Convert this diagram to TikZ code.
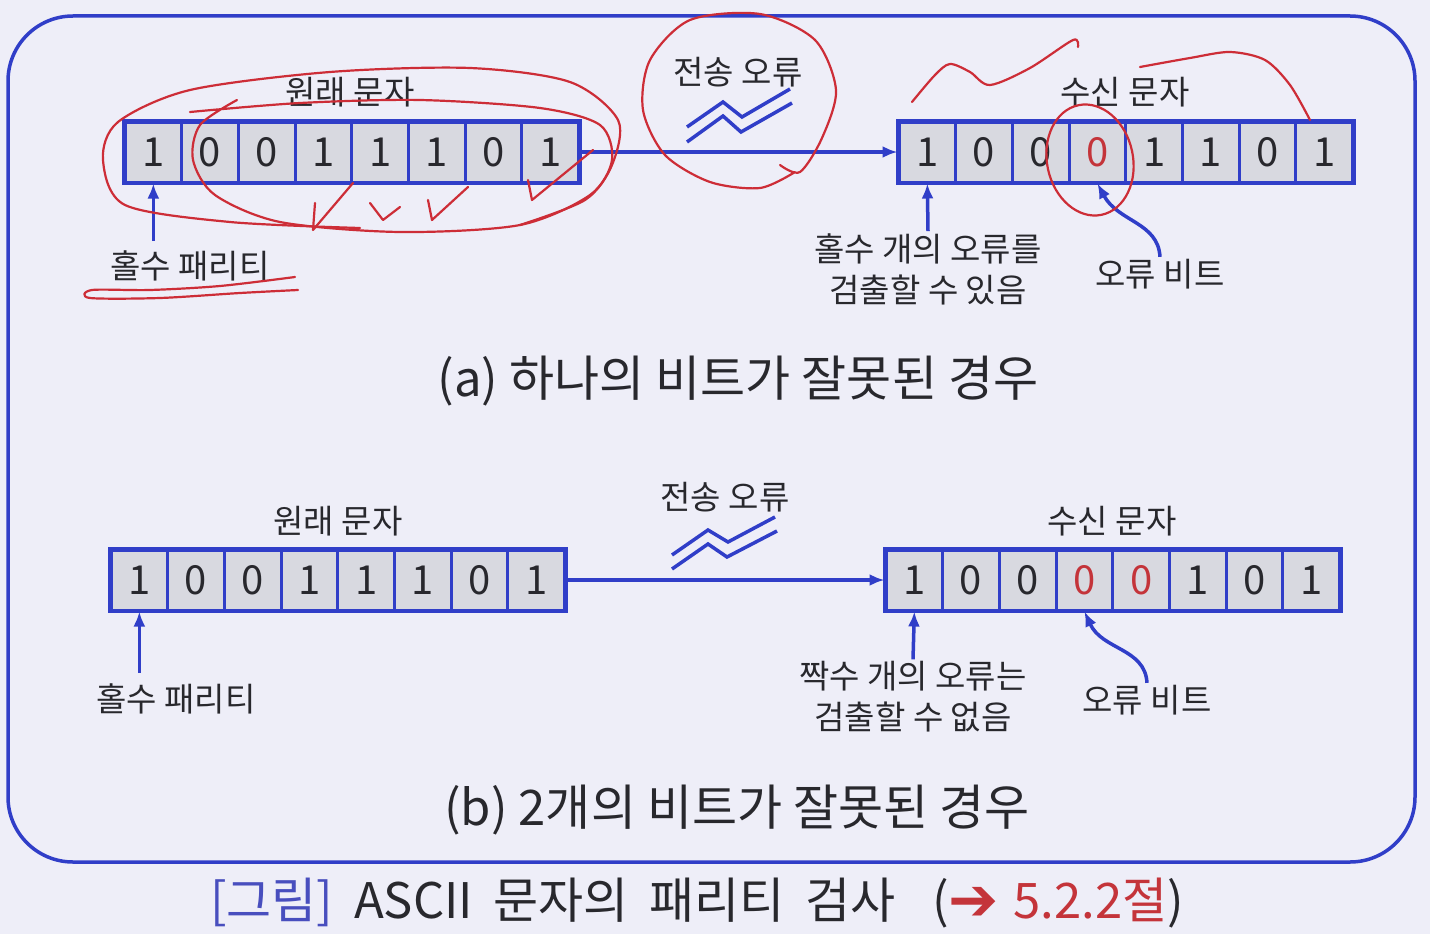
\documentclass[tikz,border=0pt]{standalone}
\usepackage{fontspec}
\setmainfont{Noto Sans CJK KR}
\newfontfamily\symfont{DejaVu Sans}
\usetikzlibrary{arrows.meta}
\definecolor{bgc}{RGB}{238,238,248}
\definecolor{bblue}{RGB}{48,62,200}
\definecolor{cellgray}{RGB}{216,217,224}
\definecolor{txt}{RGB}{40,40,45}
\definecolor{dred}{RGB}{196,52,58}
\definecolor{annred}{RGB}{205,45,55}
\definecolor{capblue}{RGB}{72,78,190}
\tikzset{
  cell/.style={draw=bblue,line width=3pt,fill=cellgray,minimum width=56.7pt,minimum height=60pt,inner sep=0pt,font=\fontsize{40}{40}\selectfont},
  lab/.style={text=txt,inner sep=2pt,align=center,font=\fontsize{33}{41}\selectfont},
  captext/.style={text=txt,inner sep=0pt,font=\fontsize{49}{52}\selectfont},
  arr/.style={draw=bblue,line width=3.5pt,-{Latex[length=15pt,width=12pt]}},
  zig/.style={draw=bblue,line width=3.5pt},
  regbox/.style={draw=bblue,line width=3.5pt},
  ann/.style={draw=annred,line width=2.2pt,line cap=round,line join=round}
}
\begin{document}
\begin{tikzpicture}[x=1pt,y=-1pt]
\fill[bgc] (0,0) rectangle (1430,934);
\useasboundingbox (0,0) rectangle (1430,934);
\draw[bblue,line width=3.5pt,rounded corners=65pt] (8,16) rectangle (1415,862);

% ---------- (a) ----------
\foreach \b/\c [count=\i] in {1/txt,0/txt,0/txt,1/txt,1/txt,1/txt,0/txt,1/txt}
  \node[cell,text=\c] (oa\i) at ({125+28.35+(\i-1)*56.7},152) {\b};
\draw[regbox] (oa1.north west) rectangle (oa8.south east);
\foreach \b/\c [count=\i] in {1/txt,0/txt,0/txt,0/dred,1/txt,1/txt,0/txt,1/txt}
  \node[cell,text=\c] (ra\i) at ({899+28.35+(\i-1)*56.7},152) {\b};
\draw[regbox] (ra1.north west) rectangle (ra8.south east);

\node[lab] (toa) at (350,92) {원래 문자};
\node[lab] (tra) at (1125,92) {수신 문자};
\node[lab] (tea) at (738,72) {전송 오류};
\draw[arr] (oa8.east) -- (ra1.west);
\draw[zig] (687,127) -- (723,102) -- (742,117) -- (790,89);
\draw[zig] (687,142) -- (723,116) -- (741,132) -- (792,103);

\node[lab] (pa) at (190,266) {홀수 패리티};
\draw[arr] (oa1.south |- 0,241) -- (oa1.south);
\node[lab] (da) at (928,269) {홀수 개의 오류를\\검출할 수 있음};
\draw[arr] (da.north) -- (ra1.south);
\node[lab] (ea) at (1160,274) {오류 비트};
\draw[arr] (ea.north) .. controls (1158,222) and (1118,222) .. (ra4.south);

\node[captext] (capa) at (738,381) {(a) 하나의 비트가 잘못된 경우};

% ---------- (b) ----------
\foreach \b/\c [count=\i] in {1/txt,0/txt,0/txt,1/txt,1/txt,1/txt,0/txt,1/txt}
  \node[cell,text=\c] (ob\i) at ({111+28.35+(\i-1)*56.7},580) {\b};
\draw[regbox] (ob1.north west) rectangle (ob8.south east);
\foreach \b/\c [count=\i] in {1/txt,0/txt,0/txt,0/dred,0/dred,1/txt,0/txt,1/txt}
  \node[cell,text=\c] (rb\i) at ({886+28.35+(\i-1)*56.7},580) {\b};
\draw[regbox] (rb1.north west) rectangle (rb8.south east);

\node[lab] (tob) at (338,521) {원래 문자};
\node[lab] (trb) at (1112,521) {수신 문자};
\node[lab] (teb) at (725,497) {전송 오류};
\draw[arr] (ob8.east) -- (rb1.west);
\draw[zig] (672,555) -- (708,530) -- (728,542) -- (775,517);
\draw[zig] (672,569) -- (708,544) -- (727,557) -- (777,531);

\node[lab] (pb) at (176,699) {홀수 패리티};
\draw[arr] (ob1.south |- 0,673) -- (ob1.south);
\node[lab] (db) at (913,697) {짝수 개의 오류는\\검출할 수 없음};
\draw[arr] (db.north) -- (rb1.south);
\node[lab] (eb) at (1147,700) {오류 비트};
\draw[arr] (eb.north) .. controls (1145,648) and (1102,650) .. (rb4.south);

\node[captext] (capb) at (737,810) {(b) 2개의 비트가 잘못된 경우};

% ---------- figure caption ----------
\node[text=txt,inner sep=0pt,anchor=west,font=\fontsize{49}{52}\selectfont] (fig) at (210,903)
  {\spaceskip=0.42em\relax{\color{capblue}[그림]} ASCII 문자의 패리티 검사\hspace{0.75em}({\color{dred}\symfont\fontsize{60}{60}\selectfont\raisebox{-0.04em}{➔}}\hspace{0.3em}{\color{dred}5.2.2절})};

% ---------- red hand annotations ----------
\draw[ann] plot[smooth] coordinates {(360,228) (230,222) (125,205) (103,160) (118,122) (190,90) (330,72) (470,68) (570,82) (618,120) (612,165) (585,200) (520,225)};
\draw[ann] plot[smooth] coordinates {(237,100) (200,125) (193,160) (215,195) (280,222) (400,232) (520,225) (590,195) (612,160) (600,125) (540,108) (420,100) (300,103) (190,112)};
\draw[ann] (315,203) -- (313,230) -- (353,183);
\draw[ann] (370,203) -- (383,220) -- (400,207);
\draw[ann] (428,200) -- (432,220) -- (468,187);
\draw[ann] (528,180) -- (532,200) -- (593,150);
\draw[ann] plot[smooth] coordinates {(295,277) (220,286) (150,290) (92,290) (90,298) (160,298) (240,293) (298,290)};
\draw[ann] plot[smooth] coordinates {(780,165) (800,172) (822,138) (836,90) (815,40) (760,14) (690,20) (650,60) (643,110) (665,155) (710,182) (760,188) (795,172)};
\draw[ann] plot[smooth] coordinates {(912,102) (935,75) (950,64) (970,72) (990,85) (1030,68) (1073,40) (1078,47)};
\draw[ann] plot[smooth] coordinates {(1140,67) (1190,58) (1230,52) (1265,60) (1290,85) (1310,120)};
\draw[ann] (1090,160) ellipse [x radius=43pt, y radius=56pt, rotate=12];
\end{tikzpicture}
\end{document}
